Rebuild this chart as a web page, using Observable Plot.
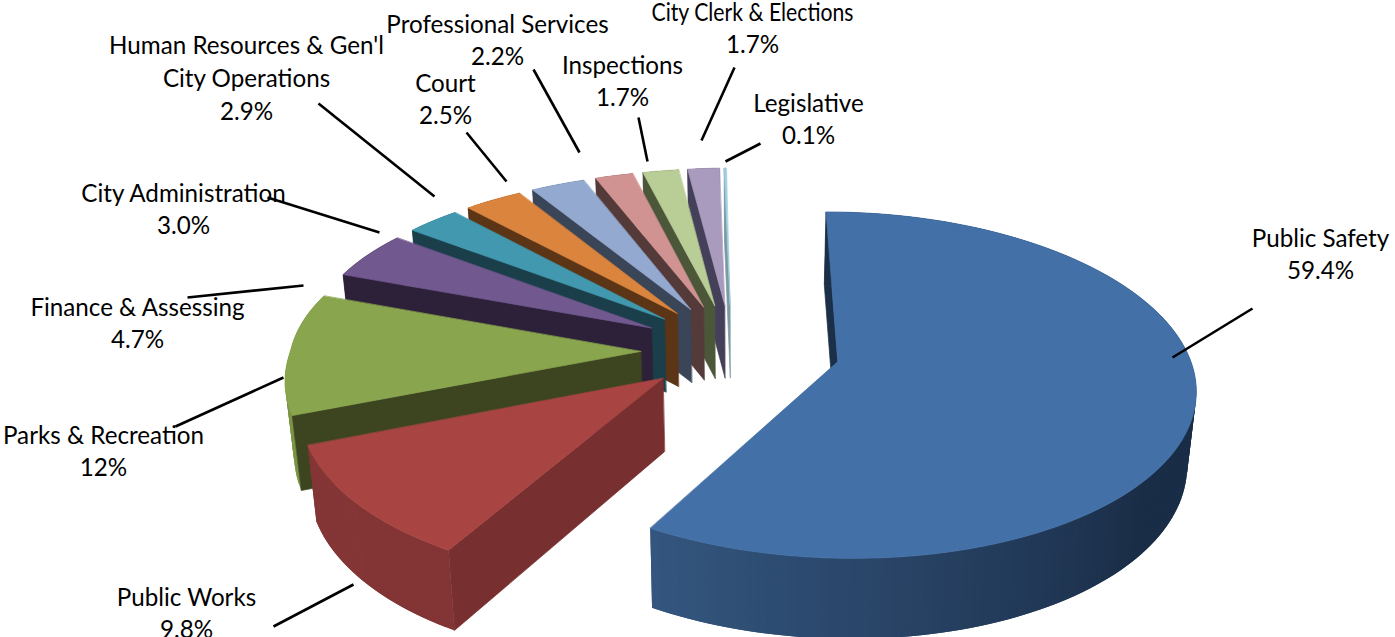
<!DOCTYPE html>
<html>
<head>
<meta charset="utf-8">
<style>
  html, body { margin: 0; padding: 0; background: #fff; overflow: hidden; }
</style>
<script src="https://cdn.jsdelivr.net/npm/d3@7"></script>
<script src="https://cdn.jsdelivr.net/npm/@observablehq/plot@0.6"></script>
</head>
<body>
<div id="chart"></div>
<script>
// ---- chart values ----
const categories = ["Public Safety","Public Works","Parks & Recreation","Finance & Assessing","City Administration","Human Resources & Gen'l\nCity Operations","Court","Professional Services","Inspections","City Clerk & Elections","Legislative"];
const percents = [59.4, 9.8, 12, 4.7, 3.0, 2.9, 2.5, 2.2, 1.7, 1.7, 0.1];
const valueLabels = ["59.4%","9.8%","12%","4.7%","3.0%","2.9%","2.5%","2.2%","1.7%","1.7%","0.1%"];

// ---- colours ----
const topColors  = ["#4370a6","#a84543","#89a54e","#71588f","#4198af","#db843d","#93a9cf","#d19392","#b9cd96","#a99bbd","#9dcfdf"];
const cutColors  = ["#1b3048","#772f2f","#3c4520","#2c2138","#1a3f4b","#5b3515","#3a4558","#553a3a","#4c573a","#45405a","#7d9aa3"];
const rimFrom    = ["#1a2d47","#833434","#7a9444","#2c2138","#1a3f4b","#5b3515","#3a4558","#553a3a","#4c573a","#45405a","#7d9aa3"];
const rimTo      = ["#34567f","#843535","#7d9748","#2c2138","#1a3f4b","#5b3515","#3a4558","#553a3a","#4c573a","#45405a","#7d9aa3"];

// ---- label layout (block centre in pixels of the 1395 x 637 scale) ----
const labelX = [1320, 186, 103, 137, 183, 246, 445, 497, 622, 752, 808];
const labelY = [ 252, 611, 449, 321, 207,  76,  97,  38,  79,  26, 117];
const leaderX1 = [1172, 353, 283, 303, 379, 434, 506, 579, 647, 701, 725];
const leaderY1 = [ 357, 584, 377, 285, 232, 196, 181, 152, 161, 140, 161];
const leaderX2 = [1252, 273, 175, 187, 267, 318, 466, 533, 638, 734, 760];
const leaderY2 = [ 308, 626, 426, 297, 197, 103, 132,  69, 117,  67, 143];

// ---- projection of the tilted, exploded disc ----
const view = {cx: 740, cy: 350, A: 350, B: 167, k: 0.136, explode: 0.285, lean: 0.02, startDeg: -2, floorShrink: 0.98};
// the 3D view skews the picture's angles a little: degrees added at each slice's start
const angleTweak = [2, -1.8, 1.5, 0, 0, -0.5, 0, 1, 0, 0.4, 0];
const rad = d => d * Math.PI / 180;
const depthAt = Y => Math.max(73, 72 + 8 * Y);
function project(X, Y, down = false) {
  const s = 1 / (1 - view.k * Y);
  const x = view.cx + view.A * X * s;
  return {
    x: down ? view.cx + (x - view.cx) * view.floorShrink : x,
    y: view.cy + view.B * Y * s + (down ? depthAt(Y) : 0)
  };
}

const polys = [];
function addPoly(id, fill, edge, pts) { pts.forEach(p => polys.push({id, fill, edge, x: p.x, y: p.y})); }

const cumulative = d3.cumsum(percents);
const plainStart = i => view.startDeg + (i === 0 ? 0 : cumulative[i - 1] * 3.6);
const startOf = i => plainStart(i) + angleTweak[i];
const slices = percents.map((p, i) => ({
  i,
  a0: startOf(i),
  a1: i < percents.length - 1 ? startOf(i + 1) : view.startDeg + 360,
  mid: plainStart(i) + p * 1.8
}));

// painter's order: rear slices first, the large front slice last
[...slices].reverse().forEach(({i, a0, a1, mid}) => {
  const c = Math.cos(rad(mid));
  const bx = view.explode * Math.sin(rad(mid));
  const ax = bx - view.lean * Math.max(c, 0);               // apex leans a little at the rear
  const ay = -view.explode * c * (c < 0 ? 0.88 : 1);
  const rim = (deg) => {
    const sn = Math.sin(rad(deg)), cs = Math.cos(rad(deg));
    const widen = sn < 0 ? 1 + 0.07 * Math.max(cs, 0) : 1;  // rear-left stretch seen in the picture
    return [bx + sn * widen, ay - cs];
  };
  const n = Math.max(2, Math.ceil((a1 - a0) / 1.5));
  const angles = d3.range(n + 1).map(j => a0 + (a1 - a0) * j / n);
  const shade = d3.scaleLinear([Math.max(a0, a1 - 80), a1], [rimFrom[i], rimTo[i]]).clamp(true);

  // outer wall, in short overlapping strips so that its shading can change along the arc
  for (let j = 0; j < n; j++) {
    const [X0, Y0] = rim(angles[j]), [X1, Y1] = rim(angles[Math.min(j + 2, n)]);
    addPoly(`rim-${i}-${j}`, shade((angles[j] + angles[j + 1]) / 2), "none",
      [project(X0, Y0), project(X1, Y1), project(X1, Y1, true), project(X0, Y0, true)]);
  }
  // the cut face that looks towards the viewer
  const [Xs, Ys] = rim(a0);
  addPoly(`cut-${i}`, cutColors[i], cutColors[i],
    [project(ax, ay), project(Xs, Ys), project(Xs, Ys, true), project(ax, ay, true)]);
  // top face
  addPoly(`top-${i}`, topColors[i], topColors[i],
    [project(ax, ay), ...angles.map(a => { const [X, Y] = rim(a); return project(X, Y); })]);
});

const labelRows = categories.map((c, i) => ({text: `${c}\n${valueLabels[i]}`, x: labelX[i], y: labelY[i]}));
const leaderRows = categories.map((c, i) => ({x1: leaderX1[i], y1: leaderY1[i], x2: leaderX2[i], y2: leaderY2[i]}));

const chart = Plot.plot({
  width: 1395, height: 637,
  marginTop: 0, marginRight: 0, marginBottom: 0, marginLeft: 0,
  x: {domain: [0, 1395], range: [0, 1395], axis: null},
  y: {domain: [0, 637], range: [0, 637], axis: null},
  color: {type: "identity"},
  style: {background: "#fff"},
  marks: [
    Plot.line(polys, {x: "x", y: "y", z: "id", fill: "fill", stroke: "edge", strokeWidth: 0.7, curve: "linear-closed"}),
    Plot.link(leaderRows, {x1: "x1", y1: "y1", x2: "x2", y2: "y2", stroke: "#000", strokeWidth: 2.6}),
    Plot.text(labelRows, {x: "x", y: "y", text: "text", fontFamily: "Lato", fontSize: 24.2, lineHeight: 1.35, fill: "#000", textAnchor: "middle", lineAnchor: "middle"})
  ]
});
document.getElementById("chart").append(chart);

// the reference sets this one line narrower than its neighbours, at the same height
chart.querySelectorAll("tspan").forEach(t => {
  if (t.textContent === "City Clerk & Elections") {
    t.setAttribute("textLength", 202);
    t.setAttribute("lengthAdjust", "spacingAndGlyphs");
  }
});
</script>
</body>
</html>
